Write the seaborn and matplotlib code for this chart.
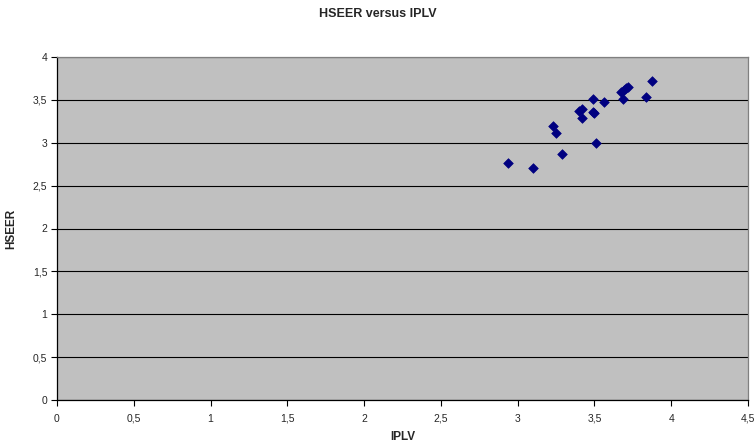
import matplotlib
matplotlib.use("Agg")
import matplotlib.pyplot as plt
import seaborn as sns
import pandas as pd
from matplotlib.ticker import FixedLocator, FuncFormatter

iplv = [2.94, 3.10, 3.29, 3.23, 3.25, 3.40, 3.42, 3.42, 3.49, 3.49, 3.50, 3.51,
        3.56, 3.67, 3.69, 3.705, 3.72, 3.685, 3.835, 3.875]
hseer = [2.76, 2.71, 2.87, 3.19, 3.11, 3.37, 3.39, 3.29, 3.51, 3.36, 3.345, 3.00,
         3.48, 3.59, 3.62, 3.64, 3.655, 3.51, 3.535, 3.72]
x_ticks = [0, 0.5, 1, 1.5, 2, 2.5, 3, 3.5, 4, 4.5]
y_ticks = [0, 0.5, 1, 1.5, 2, 2.5, 3, 3.5, 4]

df = pd.DataFrame({"IPLV": iplv, "HSEER": hseer})

sns.set_style("white")
plt.rcParams["font.family"] = ["Liberation Sans", "DejaVu Sans"]

fig = plt.figure(figsize=(7.55, 4.43), dpi=100)
ax = fig.add_axes([57/755, 1 - 400/443, (748-57)/755, (400-57)/443])
ax.set_facecolor("#C0C0C0")

sns.scatterplot(data=df, x="IPLV", y="HSEER", marker="D", s=24, color="#000080",
                edgecolor="#000080", linewidth=0.5, ax=ax, zorder=3)

ax.set_xlim(0, 4.5)
ax.set_ylim(0, 4)
ax.xaxis.set_major_locator(FixedLocator(x_ticks))
ax.yaxis.set_major_locator(FixedLocator(y_ticks))
fmt = FuncFormatter(lambda v, p: (f"{v:g}").replace(".", ","))
ax.xaxis.set_major_formatter(fmt)
ax.yaxis.set_major_formatter(fmt)
ax.grid(axis="y", color="black", linewidth=0.8)
ax.grid(axis="x", visible=False)
ax.set_axisbelow(True)
ax.tick_params(axis="both", direction="out", length=4, width=0.8, labelsize=7.5,
               color="black", bottom=True, left=True)
ax.tick_params(axis="x", pad=6)
ax.tick_params(axis="y", pad=3)

for s in ["left", "bottom"]:
    ax.spines[s].set_color("black")
    ax.spines[s].set_linewidth(0.9)
for s in ["top", "right"]:
    ax.spines[s].set_color("#808080")
    ax.spines[s].set_linewidth(0.9)

ax.set_xlabel("IPLV", fontsize=8.5, fontweight="bold", labelpad=5)
ax.set_ylabel("HSEER", fontsize=8.5, fontweight="bold", labelpad=11)
fig.text(0.5, 1 - 14/443, "HSEER versus IPLV", ha="center", va="center",
         fontsize=9, fontweight="bold")

fig.savefig("out.png", dpi=100, facecolor="white")
